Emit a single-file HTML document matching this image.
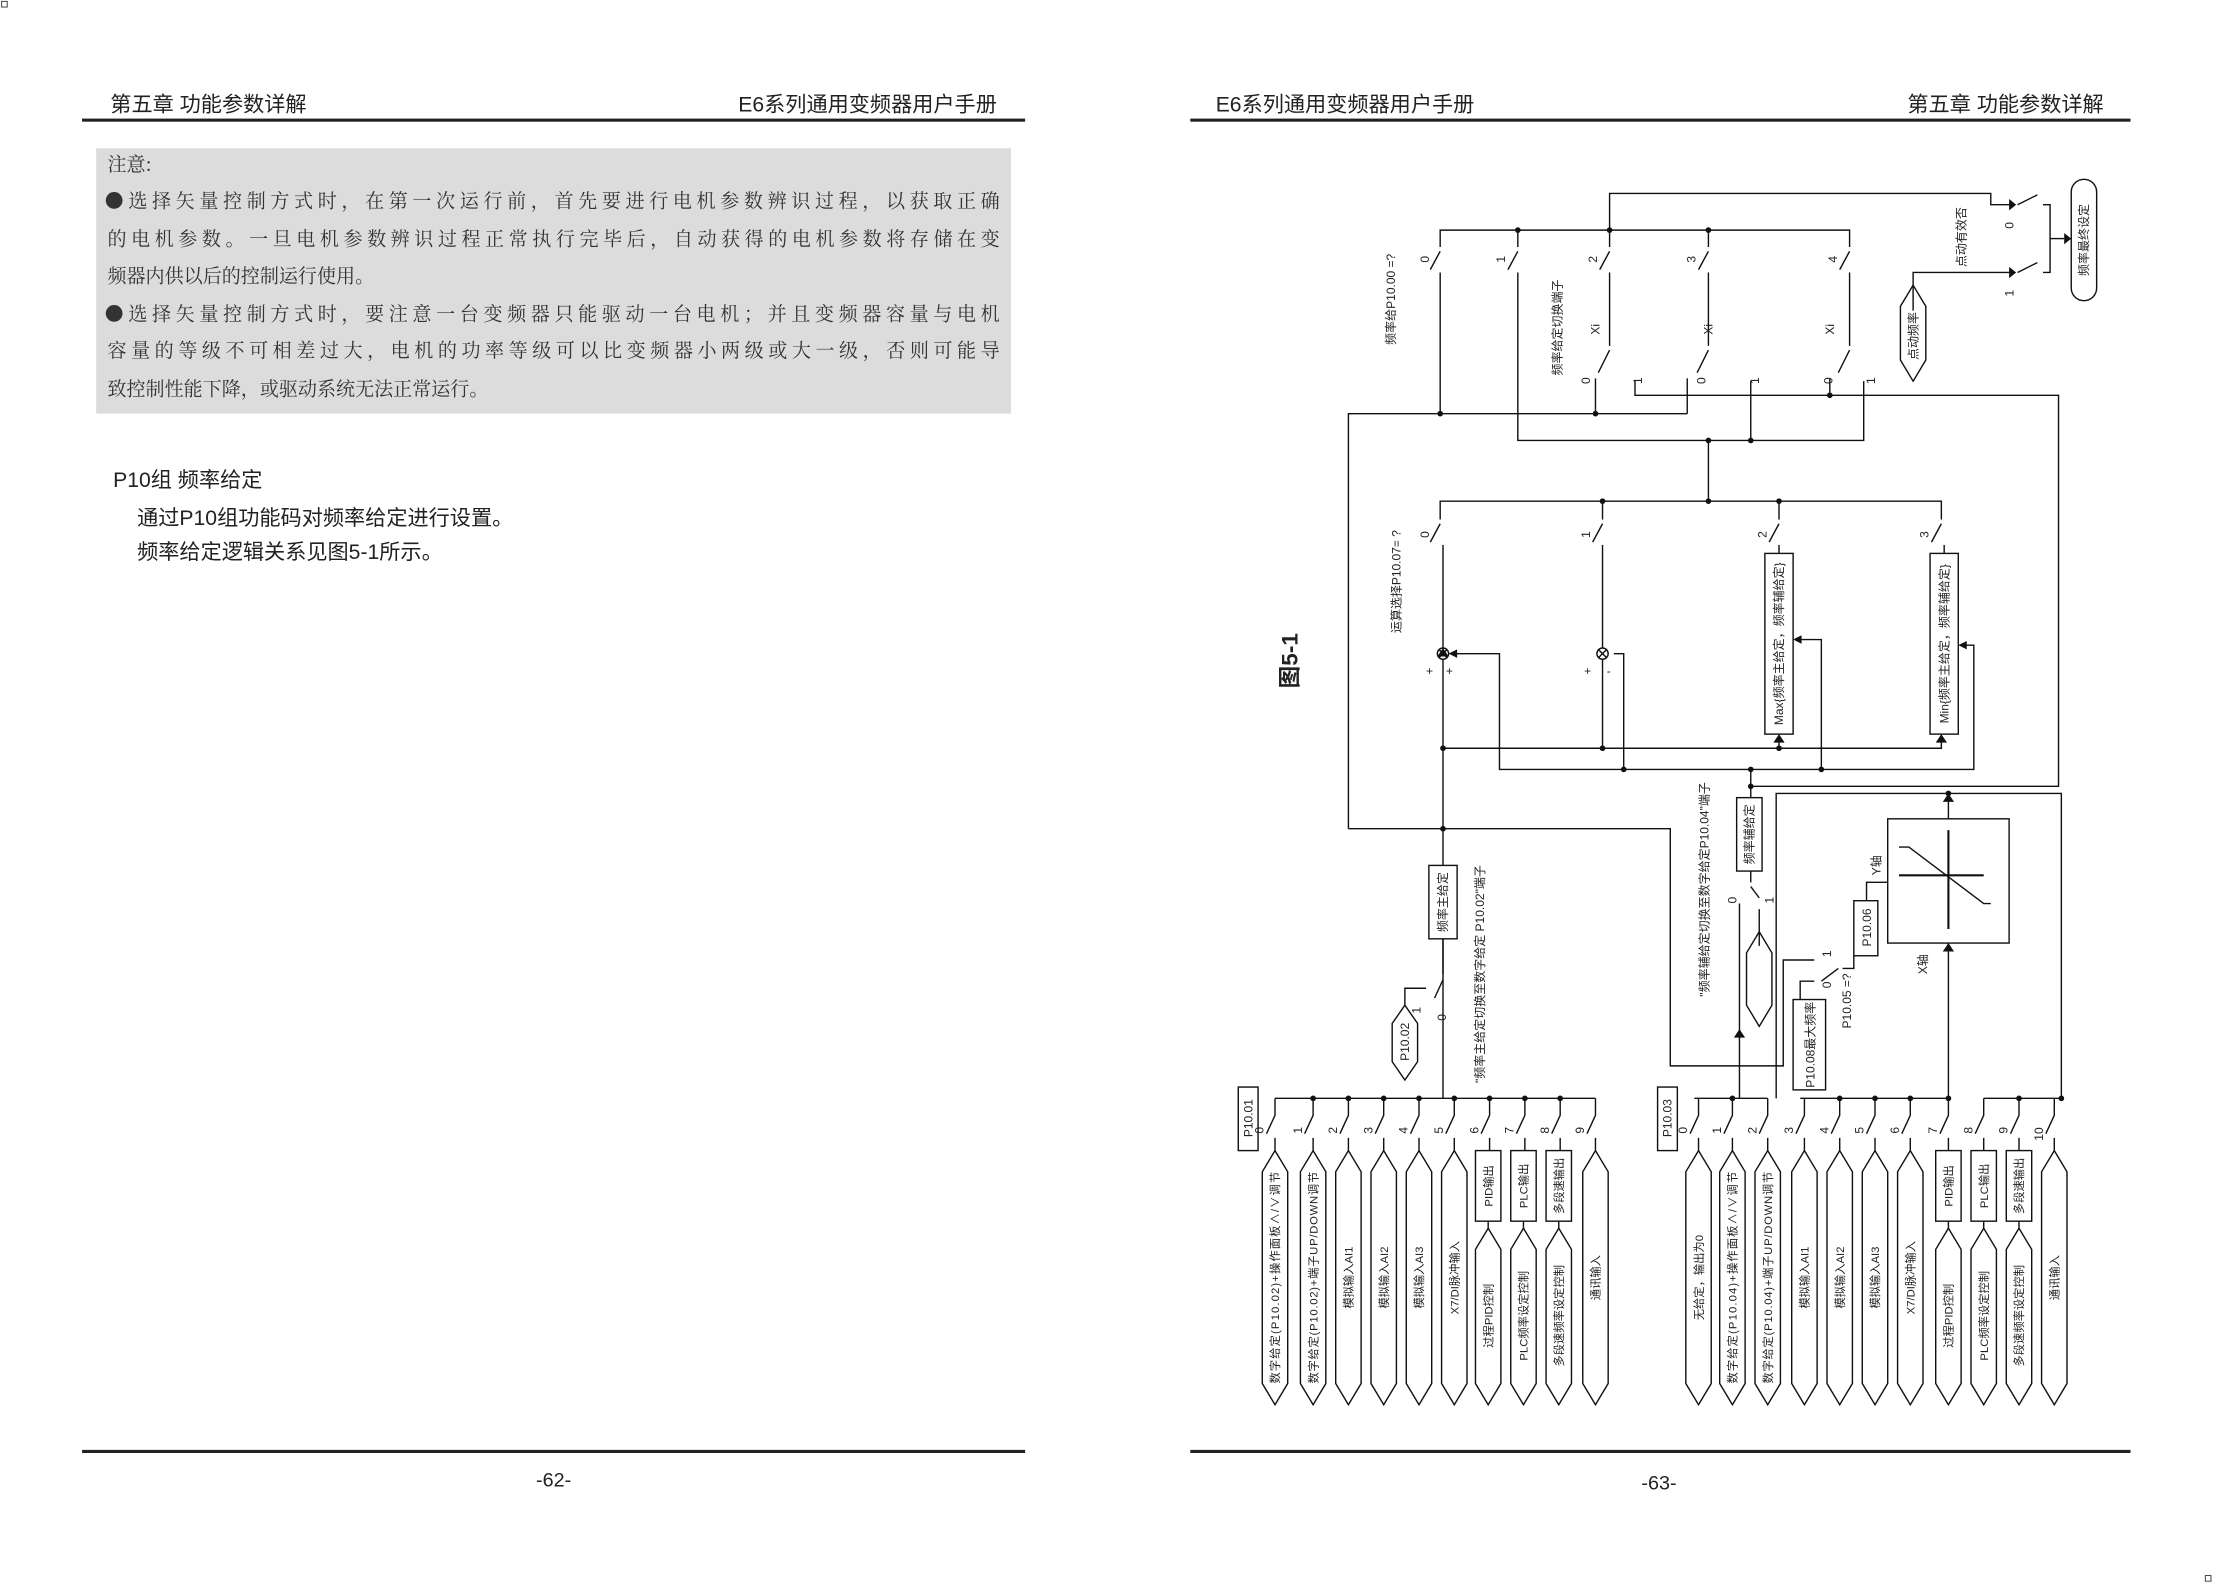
<!DOCTYPE html>
<html><head><meta charset="utf-8"><style>
html,body{margin:0;padding:0;background:#fff}
svg{display:block}
text{font-family:"Liberation Sans","Noto Sans CJK SC",sans-serif;fill:#222}
.s{font-family:"Noto Serif CJK SC","Liberation Serif",serif;fill:#333}
.w{stroke:#111;stroke-width:1;fill:none}
.d{fill:#111}
</style></head><body>
<svg width="2214" height="1584" viewBox="0 0 1568 1122" xmlns="http://www.w3.org/2000/svg">
<rect x="1" y="1" width="4" height="4" fill="none" stroke="#444" stroke-width="0.7"/>
<rect x="1562" y="1116" width="4" height="4" fill="none" stroke="#444" stroke-width="0.7"/>
<!-- LEFT PAGE -->
<text x="78" y="79" font-size="15">第五章 功能参数详解</text>
<text x="706" y="79" font-size="15" text-anchor="end">E6系列通用变频器用户手册</text>
<rect x="58" y="84" width="668" height="2.2" fill="#222"/>
<rect x="68" y="105" width="648" height="188" fill="#dcdcdc"/>
<g class="s" font-size="13.5">
<text x="76" y="121" class="s">注意:</text>
<text x="74" y="147" class="s" textLength="634">●选择矢量控制方式时，在第一次运行前，首先要进行电机参数辨识过程，以获取正确</text>
<text x="76" y="174" class="s" textLength="632">的电机参数。一旦电机参数辨识过程正常执行完毕后，自动获得的电机参数将存储在变</text>
<text x="76" y="200" class="s">频器内供以后的控制运行使用。</text>
<text x="74" y="227" class="s" textLength="634">●选择矢量控制方式时，要注意一台变频器只能驱动一台电机；并且变频器容量与电机</text>
<text x="76" y="253" class="s" textLength="632">容量的等级不可相差过大，电机的功率等级可以比变频器小两级或大一级，否则可能导</text>
<text x="76" y="280" class="s">致控制性能下降，或驱动系统无法正常运行。</text>
</g>
<text x="80" y="345" font-size="15">P10组  频率给定</text>
<text x="97" y="372" font-size="15">通过P10组功能码对频率给定进行设置。</text>
<text x="97" y="396" font-size="15">频率给定逻辑关系见图5-1所示。</text>
<rect x="58" y="1027" width="668" height="2.2" fill="#222"/>
<text x="392" y="1053" font-size="14" text-anchor="middle">-62-</text>
<!-- RIGHT PAGE -->
<text x="861" y="79" font-size="15">E6系列通用变频器用户手册</text>
<text x="1490" y="79" font-size="15" text-anchor="end">第五章 功能参数详解</text>
<rect x="843" y="84" width="666" height="2.2" fill="#222"/>
<rect x="843" y="1027" width="666" height="2.2" fill="#222"/>
<text x="1175" y="1055" font-size="14" text-anchor="middle">-63-</text>
<text font-size="16" font-weight="bold" transform="translate(919,468) rotate(-90)" text-anchor="middle">图5-1</text>

<g class="w">
<rect x="1467" y="127" width="18" height="86" rx="9"/>
<polyline points="1140,163 1140,137 1410,137 1410,145 1425,145"/>
<polyline points="1355,220 1355,193 1425,193"/>
<line x1="1429" y1="145" x2="1443" y2="138"/><line x1="1429" y1="193" x2="1443" y2="186"/>
<polyline points="1447,145 1452,145 1452,193 1447,193"/>
<line x1="1452" y1="169" x2="1462" y2="169"/>
<polygon points="1355,202 1364,217 1364,255 1355,270 1346,255 1346,217"/>
<polyline points="1020,175 1020,163 1310,163 1310,175"/>
<line x1="1075" y1="163" x2="1075" y2="175"/><line x1="1140" y1="163" x2="1140" y2="175"/><line x1="1210" y1="163" x2="1210" y2="175"/>
<line x1="1020" y1="178" x2="1013" y2="191"/><line x1="1075" y1="178" x2="1068" y2="191"/><line x1="1140" y1="178" x2="1133" y2="191"/><line x1="1210" y1="178" x2="1203" y2="191"/><line x1="1310" y1="178" x2="1303" y2="191"/>
<line x1="1020" y1="193" x2="1020" y2="293"/>
<polyline points="1075,193 1075,312 1320,312 1320,270"/>
<line x1="1140" y1="193" x2="1140" y2="245"/><line x1="1210" y1="193" x2="1210" y2="245"/><line x1="1310" y1="193" x2="1310" y2="245"/>
<line x1="1140" y1="248" x2="1132" y2="264"/><line x1="1210" y1="248" x2="1202" y2="264"/><line x1="1310" y1="248" x2="1302" y2="264"/>
<polyline points="1130,268 1130,293"/><polyline points="1195,268 1195,293"/>
<polyline points="1158,270 1158,280 1458,280 1458,557 1240,557"/>
<line x1="1296" y1="268" x2="1296" y2="280"/>
<line x1="1240" y1="270" x2="1240" y2="312"/>
<polyline points="955,587 955,293 1195,293"/>
<line x1="1210" y1="312" x2="1210" y2="355"/>
<polyline points="1020,368 1020,355 1375,355 1375,368"/>
<line x1="1135" y1="355" x2="1135" y2="368"/><line x1="1260" y1="355" x2="1260" y2="368"/>
<line x1="1020" y1="371" x2="1013" y2="384"/><line x1="1135" y1="371" x2="1128" y2="384"/><line x1="1260" y1="371" x2="1253" y2="384"/><line x1="1375" y1="371" x2="1368" y2="384"/>
<line x1="1022" y1="386" x2="1022" y2="459"/><line x1="1135" y1="386" x2="1135" y2="459"/>
<line x1="1260" y1="386" x2="1260" y2="392"/><line x1="1377" y1="386" x2="1377" y2="392"/>
<rect x="1250" y="392" width="20" height="128" fill="#fff"/>
<rect x="1367" y="392" width="20" height="128" fill="#fff"/>
<circle cx="1022" cy="463" r="4"/><circle cx="1135" cy="463" r="4"/>
<line x1="1019" y1="460" x2="1025" y2="466"/><line x1="1025" y1="460" x2="1019" y2="466"/>
<line x1="1132" y1="460" x2="1138" y2="466"/><line x1="1138" y1="460" x2="1132" y2="466"/>
<line x1="1022" y1="467" x2="1022" y2="778"/>
<line x1="1135" y1="467" x2="1135" y2="530"/>
<polyline points="1022,530 1375,530 1375,524"/>
<line x1="1260" y1="530" x2="1260" y2="524"/>
<polyline points="1030,463 1062,463 1062,545 1398,545 1398,457 1391,457"/>
<polyline points="1143,463 1150,463 1150,545"/>
<polyline points="1274,453 1290,453 1290,545"/>
<polyline points="955,587 1183,587 1183,755 1232,755"/>
<rect x="1012" y="613" width="20" height="52" fill="#fff"/>
<line x1="1022" y1="665" x2="1022" y2="690"/>
<line x1="1022" y1="694" x2="1016" y2="707"/>
<polyline points="995,712 995,700 1010,700"/>
<polygon points="995,712 1004,725 1004,752 995,765 986,752 986,725"/>
<line x1="1240" y1="545" x2="1240" y2="565"/>
<rect x="1230" y="565" width="18" height="52" fill="#fff"/>
<line x1="1240" y1="617" x2="1240" y2="625"/>
<line x1="1240" y1="628" x2="1246" y2="636"/>
<line x1="1246" y1="644" x2="1246" y2="670"/>
<polygon points="1246,660 1255,675 1255,712 1246,727 1237,712 1237,675"/>
<line x1="1232" y1="640" x2="1232" y2="778"/>
<polyline points="1232,755 1263,755 1263,680 1285,680"/>
<polyline points="1275,708 1275,695 1285,695"/>
<rect x="1270" y="708" width="23" height="64" fill="#fff"/>
<line x1="1290" y1="695" x2="1302" y2="686"/>
<polyline points="1305,686 1313,686 1313,677"/>
<rect x="1313" y="638" width="17" height="39" fill="#fff"/>
<polyline points="1322,638 1322,625 1337,625"/>
<rect x="1337" y="580" width="86" height="88" fill="#fff"/>
<line x1="1345" y1="620" x2="1405" y2="620" stroke-width="1.5"/>
<line x1="1380" y1="588" x2="1380" y2="658" stroke-width="1.5"/>
<polyline points="1345,600 1352,600 1405,640 1410,640"/>
<polyline points="1380,562 1380,580"/>
<polyline points="1258,778 1258,562 1460,562 1460,778"/>
<line x1="1380" y1="668" x2="1380" y2="778"/>
</g>
<g class="d">
<circle cx="1075" cy="163" r="2"/><circle cx="1140" cy="163" r="2"/><circle cx="1210" cy="163" r="2"/>
<circle cx="1020" cy="293" r="2"/><circle cx="1130" cy="293" r="2"/><circle cx="1296" cy="280" r="2"/>
<circle cx="1210" cy="312" r="2"/><circle cx="1240" cy="312" r="2"/>
<circle cx="1135" cy="355" r="2"/><circle cx="1210" cy="355" r="2"/><circle cx="1260" cy="355" r="2"/>
<circle cx="1022" cy="530" r="2"/><circle cx="1135" cy="530" r="2"/><circle cx="1260" cy="530" r="2"/>
<circle cx="1150" cy="545" r="2"/><circle cx="1240" cy="545" r="2"/><circle cx="1290" cy="545" r="2"/><circle cx="1240" cy="557" r="2"/>
<circle cx="1022" cy="587" r="2"/><circle cx="1380" cy="562" r="2"/>
<polygon points="1462,165 1467,169 1462,173"/><polygon points="1423,141 1428,145 1423,149"/><polygon points="1423,189 1428,193 1423,197"/>
<polygon points="1018,459 1022,465 1026,459" transform="rotate(180 1022 462)"/>
<polygon points="1026,460 1032,463 1026,466" transform="rotate(180 1029 463)"/>
<polygon points="1256,526 1260,520 1264,526"/><polygon points="1371,526 1375,520 1379,526"/>
<polygon points="1276,450 1270,453 1276,456"/><polygon points="1393,454 1387,457 1393,460"/>
<polygon points="1376,568 1380,562 1384,568"/><polygon points="1376,674 1380,668 1384,674"/>
<polygon points="1232,735 1228,729 1236,729" transform="rotate(180 1232 732)"/>
</g>
<g font-size="8.5">
<text transform="translate(988,212) rotate(-90)" text-anchor="middle">频率给P10.00 =?</text>
<text transform="translate(1012,186) rotate(-90)">0</text><text transform="translate(1066,186) rotate(-90)">1</text>
<text transform="translate(1131,186) rotate(-90)">2</text><text transform="translate(1201,186) rotate(-90)">3</text><text transform="translate(1301,186) rotate(-90)">4</text>
<text transform="translate(1106,232) rotate(-90)" text-anchor="middle">频率给定切换端子</text>
<text transform="translate(1133,237) rotate(-90)">Xi</text><text transform="translate(1213,237) rotate(-90)">Xi</text><text transform="translate(1299,237) rotate(-90)">Xi</text>
<text transform="translate(1126,272) rotate(-90)">0</text><text transform="translate(1163,272) rotate(-90)">1</text>
<text transform="translate(1208,272) rotate(-90)">0</text><text transform="translate(1246,272) rotate(-90)">1</text>
<text transform="translate(1298,272) rotate(-90)">0</text><text transform="translate(1328,272) rotate(-90)">1</text>
<text transform="translate(1358,238) rotate(-90)" text-anchor="middle">点动频率</text>
<text transform="translate(1392,168) rotate(-90)" text-anchor="middle">点动有效否</text>
<text transform="translate(1426,162) rotate(-90)">0</text><text transform="translate(1426,210) rotate(-90)">1</text>
<text transform="translate(1479,170) rotate(-90)" text-anchor="middle">频率最终设定</text>
<text transform="translate(992,412) rotate(-90)" text-anchor="middle">运算选择P10.07= ?</text>
<text transform="translate(1012,381) rotate(-90)">0</text><text transform="translate(1126,381) rotate(-90)">1</text>
<text transform="translate(1251,381) rotate(-90)">2</text><text transform="translate(1366,381) rotate(-90)">3</text>
<text transform="translate(1263,456) rotate(-90)" text-anchor="middle">Max{频率主给定，频率辅给定}</text>
<text transform="translate(1380,456) rotate(-90)" text-anchor="middle">Min{频率主给定，频率辅给定}</text>
<text x="1010" y="478">+</text><text x="1024" y="478">+</text><text x="1122" y="478">+</text><text x="1138" y="478">-</text>
<text transform="translate(1025,639) rotate(-90)" text-anchor="middle">频率主给定</text>
<text transform="translate(1051,690) rotate(-90)" text-anchor="middle">"频率主给定切换至数字给定 P10.02"端子</text>
<text transform="translate(998,738) rotate(-90)" text-anchor="middle">P10.02</text>
<text transform="translate(1006,718) rotate(-90)">1</text><text transform="translate(1024,723) rotate(-90)">0</text>
<text transform="translate(1210,630) rotate(-90)" text-anchor="middle">"频率辅给定切换至数字给定P10.04"端子</text>
<text transform="translate(1242,591) rotate(-90)" text-anchor="middle">频率辅给定</text>
<text transform="translate(1230,640) rotate(-90)">0</text><text transform="translate(1256,640) rotate(-90)">1</text>
<text transform="translate(1285,740) rotate(-90)" text-anchor="middle">P10.08最大频率</text>
<text transform="translate(1311,709) rotate(-90)" text-anchor="middle">P10.05 =?</text>
<text transform="translate(1297,700) rotate(-90)">0</text><text transform="translate(1297,678) rotate(-90)">1</text>
<text transform="translate(1325,657) rotate(-90)" text-anchor="middle">P10.06</text>
<text transform="translate(1332,620) rotate(-90)">Y轴</text>
<text transform="translate(1365,690) rotate(-90)">X轴</text>
<text transform="translate(887,792) rotate(-90)" text-anchor="middle">P10.01</text>
<text transform="translate(1184,792) rotate(-90)" text-anchor="middle">P10.03</text>
</g>
<rect x="877" y="770" width="14" height="45" fill="none" stroke="#111"/>
<rect x="1174" y="770" width="14" height="45" fill="none" stroke="#111"/>
<g class="w">
<line x1="903" y1="778" x2="1130" y2="778"/>
<line x1="1200" y1="778" x2="1252" y2="778"/>
<line x1="1275" y1="778" x2="1380" y2="778"/>
<line x1="1405" y1="778" x2="1460" y2="778"/>
</g>
<g font-size="8.5">
<g class="w">
<path d="M903,778V790l-6,13M903,806V815 M930,778V790l-6,13M930,806V815 M955,778V790l-6,13M955,806V815 M980,778V790l-6,13M980,806V815 M1005,778V790l-6,13M1005,806V815 M1030,778V790l-6,13M1030,806V815 M1055,778V790l-6,13M1055,806V815 M1080,778V790l-6,13M1080,806V815 M1105,778V790l-6,13M1105,806V815 M1130,778V790l-6,13M1130,806V815"/>
<path d="M1203,778V790l-6,13M1203,806V815 M1227,778V790l-6,13M1227,806V815 M1252,778V790l-6,13M1252,806V815 M1278,778V790l-6,13M1278,806V815 M1303,778V790l-6,13M1303,806V815 M1328,778V790l-6,13M1328,806V815 M1353,778V790l-6,13M1353,806V815 M1380,778V790l-6,13M1380,806V815 M1405,778V790l-6,13M1405,806V815 M1430,778V790l-6,13M1430,806V815 M1455,778V790l-6,13M1455,806V815"/>
<polygon points="903,815 912,830 912,980 903,995 894,980 894,830"/>
<polygon points="930,815 939,830 939,980 930,995 921,980 921,830"/>
<polygon points="955,815 964,830 964,980 955,995 946,980 946,830"/>
<polygon points="980,815 989,830 989,980 980,995 971,980 971,830"/>
<polygon points="1005,815 1014,830 1014,980 1005,995 996,980 996,830"/>
<polygon points="1030,815 1039,830 1039,980 1030,995 1021,980 1021,830"/>
<rect x="1045" y="815" width="18" height="50"/><line x1="1054" y1="865" x2="1054" y2="870"/>
<polygon points="1054,870 1063,885 1063,980 1054,995 1045,980 1045,885"/>
<rect x="1070" y="815" width="18" height="50"/><line x1="1079" y1="865" x2="1079" y2="870"/>
<polygon points="1079,870 1088,885 1088,980 1079,995 1070,980 1070,885"/>
<rect x="1095" y="815" width="18" height="50"/><line x1="1104" y1="865" x2="1104" y2="870"/>
<polygon points="1104,870 1113,885 1113,980 1104,995 1095,980 1095,885"/>
<polygon points="1130,815 1139,830 1139,980 1130,995 1121,980 1121,830"/>
<polygon points="1203,815 1212,830 1212,980 1203,995 1194,980 1194,830"/>
<polygon points="1227,815 1236,830 1236,980 1227,995 1218,980 1218,830"/>
<polygon points="1252,815 1261,830 1261,980 1252,995 1243,980 1243,830"/>
<polygon points="1278,815 1287,830 1287,980 1278,995 1269,980 1269,830"/>
<polygon points="1303,815 1312,830 1312,980 1303,995 1294,980 1294,830"/>
<polygon points="1328,815 1337,830 1337,980 1328,995 1319,980 1319,830"/>
<polygon points="1353,815 1362,830 1362,980 1353,995 1344,980 1344,830"/>
<rect x="1371" y="815" width="18" height="50"/><line x1="1380" y1="865" x2="1380" y2="870"/>
<polygon points="1380,870 1389,885 1389,980 1380,995 1371,980 1371,885"/>
<rect x="1396" y="815" width="18" height="50"/><line x1="1405" y1="865" x2="1405" y2="870"/>
<polygon points="1405,870 1414,885 1414,980 1405,995 1396,980 1396,885"/>
<rect x="1421" y="815" width="18" height="50"/><line x1="1430" y1="865" x2="1430" y2="870"/>
<polygon points="1430,870 1439,885 1439,980 1430,995 1421,980 1421,885"/>
<polygon points="1455,815 1464,830 1464,980 1455,995 1446,980 1446,830"/>
</g>
<g class="d">
<circle cx="930" cy="778" r="2"/><circle cx="955" cy="778" r="2"/><circle cx="980" cy="778" r="2"/><circle cx="1005" cy="778" r="2"/><circle cx="1030" cy="778" r="2"/><circle cx="1055" cy="778" r="2"/><circle cx="1080" cy="778" r="2"/><circle cx="1105" cy="778" r="2"/>
<circle cx="1227" cy="778" r="2"/><circle cx="1303" cy="778" r="2"/><circle cx="1328" cy="778" r="2"/><circle cx="1353" cy="778" r="2"/><circle cx="1380" cy="778" r="2"/><circle cx="1430" cy="778" r="2"/><circle cx="1460" cy="778" r="2"/>
</g>
<text transform="translate(895,803) rotate(-90)">0</text><text transform="translate(922,803) rotate(-90)">1</text><text transform="translate(947,803) rotate(-90)">2</text><text transform="translate(972,803) rotate(-90)">3</text><text transform="translate(997,803) rotate(-90)">4</text><text transform="translate(1022,803) rotate(-90)">5</text><text transform="translate(1047,803) rotate(-90)">6</text><text transform="translate(1072,803) rotate(-90)">7</text><text transform="translate(1097,803) rotate(-90)">8</text><text transform="translate(1122,803) rotate(-90)">9</text>
<text transform="translate(1195,803) rotate(-90)">0</text><text transform="translate(1219,803) rotate(-90)">1</text><text transform="translate(1244,803) rotate(-90)">2</text><text transform="translate(1270,803) rotate(-90)">3</text><text transform="translate(1295,803) rotate(-90)">4</text><text transform="translate(1320,803) rotate(-90)">5</text><text transform="translate(1345,803) rotate(-90)">6</text><text transform="translate(1372,803) rotate(-90)">7</text><text transform="translate(1397,803) rotate(-90)">8</text><text transform="translate(1422,803) rotate(-90)">9</text><text transform="translate(1447,808) rotate(-90)">10</text>
<g font-size="8" text-anchor="middle">
<text transform="translate(906,905) rotate(-90)" textLength="150">数字给定(P10.02)+操作面板∧/∨调节</text>
<text transform="translate(933,905) rotate(-90)" textLength="150">数字给定(P10.02)+端子UP/DOWN调节</text>
<text transform="translate(958,905) rotate(-90)">模拟输入AI1</text>
<text transform="translate(983,905) rotate(-90)">模拟输入AI2</text>
<text transform="translate(1008,905) rotate(-90)">模拟输入AI3</text>
<text transform="translate(1033,905) rotate(-90)">X7/DI脉冲输入</text>
<text transform="translate(1057,840) rotate(-90)">PID输出</text>
<text transform="translate(1082,840) rotate(-90)">PLC输出</text>
<text transform="translate(1107,840) rotate(-90)">多段速输出</text>
<text transform="translate(1057,932) rotate(-90)">过程PID控制</text>
<text transform="translate(1082,932) rotate(-90)">PLC频率设定控制</text>
<text transform="translate(1107,932) rotate(-90)">多段速频率设定控制</text>
<text transform="translate(1133,905) rotate(-90)">通讯输入</text>
<text transform="translate(1206,905) rotate(-90)">无给定，输出为0</text>
<text transform="translate(1230,905) rotate(-90)" textLength="150">数字给定(P10.04)+操作面板∧/∨调节</text>
<text transform="translate(1255,905) rotate(-90)" textLength="150">数字给定(P10.04)+端子UP/DOWN调节</text>
<text transform="translate(1281,905) rotate(-90)">模拟输入AI1</text>
<text transform="translate(1306,905) rotate(-90)">模拟输入AI2</text>
<text transform="translate(1331,905) rotate(-90)">模拟输入AI3</text>
<text transform="translate(1356,905) rotate(-90)">X7/DI脉冲输入</text>
<text transform="translate(1383,840) rotate(-90)">PID输出</text>
<text transform="translate(1408,840) rotate(-90)">PLC输出</text>
<text transform="translate(1433,840) rotate(-90)">多段速输出</text>
<text transform="translate(1383,932) rotate(-90)">过程PID控制</text>
<text transform="translate(1408,932) rotate(-90)">PLC频率设定控制</text>
<text transform="translate(1433,932) rotate(-90)">多段速频率设定控制</text>
<text transform="translate(1458,905) rotate(-90)">通讯输入</text>
</g>
</g>
</svg>
</body></html>
